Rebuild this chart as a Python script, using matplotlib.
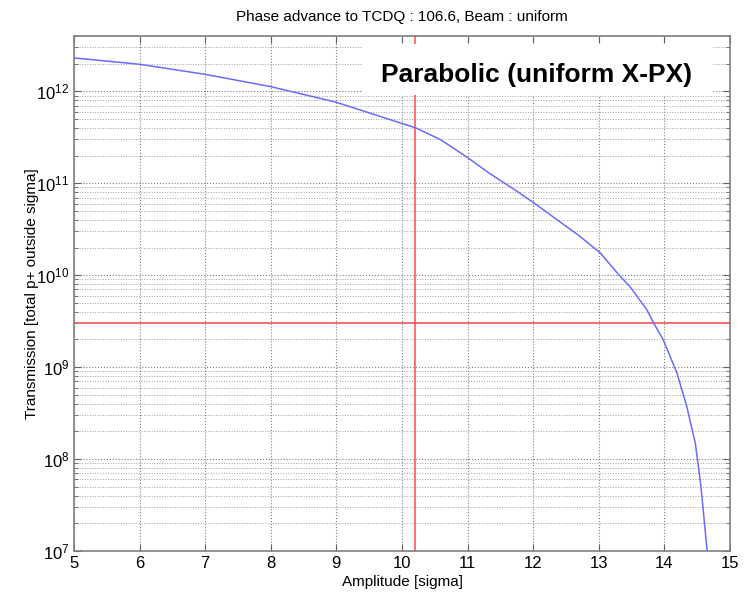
import matplotlib
matplotlib.use("Agg")
import matplotlib.pyplot as plt
from matplotlib.ticker import LogLocator, MultipleLocator
from matplotlib.patches import Rectangle

plt.rcParams['font.family'] = ['Liberation Sans', 'DejaVu Sans']
plt.rcParams['mathtext.fontset'] = 'custom'
plt.rcParams['mathtext.rm'] = 'Liberation Sans'
plt.rcParams['mathtext.it'] = 'Liberation Sans'

amplitude = [5.0, 6.0, 7.0, 8.0, 9.0, 10.0, 10.2, 10.58, 11.0, 11.32, 11.75,
             12.05, 12.71, 13.02, 13.32, 13.47, 13.73, 13.84, 13.98, 14.19, 14.34,
             14.47, 14.55, 14.60, 14.65]
transmission = [2.31e12, 1.97e12, 1.53e12, 1.125e12, 7.6e11, 4.47e11, 4.03e11,
                3.0e11, 1.9e11, 1.3e11, 8.2e10, 5.83e10, 2.65e10, 1.75e10,
                9.8e9, 7.57e9, 4.22e9, 2.97e9, 1.99e9, 8.63e8, 3.73e8, 1.49e8,
                5.46e7, 2.37e7, 1.0e7]
cut_amplitude = 10.2
cut_transmission = 3e9

title = "Phase advance to TCDQ : 106.6, Beam : uniform"
xlabel = "Amplitude [sigma]"
ylabel = "Transmission [total p+ outside sigma]"
annotation = "Parabolic (uniform X-PX)"

fig = plt.figure(figsize=(7.55, 5.95), dpi=100)
ax = fig.add_axes([0.098, 0.074, 0.869, 0.8655])

ax.plot(amplitude, transmission, color='#6b6bff', lw=1.1, zorder=3)
ax.axvline(cut_amplitude, color='#ff4a4a', lw=1.1, zorder=2)
ax.axhline(cut_transmission, color='#ff4a4a', lw=1.1, zorder=2)

ax.set_yscale('log')
ax.set_xlim(5, 15)
ax.set_ylim(1e7, 4e12)
ax.xaxis.set_major_locator(MultipleLocator(1))
ax.yaxis.set_major_locator(LogLocator(base=10, numticks=20))
ax.yaxis.set_minor_locator(LogLocator(base=10, subs=range(2, 10), numticks=20))

ax.grid(True, which='major', linestyle=':', color='#808080', lw=0.8)
ax.grid(True, which='minor', axis='y', linestyle=':', color='#a0a0a0', lw=0.7)

ax.tick_params(which='both', direction='in', top=True, right=True,
               colors='#606060', labelcolor='black', labelsize=12)
ax.tick_params(which='major', length=5)
ax.tick_params(which='minor', length=3)
for s in ax.spines.values():
    s.set_color('#808080')
    s.set_linewidth(1.2)

ax.set_title(title, fontsize=11, pad=11)
ax.set_xlabel(xlabel, fontsize=11, labelpad=3)
ax.set_ylabel(ylabel, fontsize=11, labelpad=-2)

ax.add_patch(Rectangle((0.439, 0.885), 0.534, 0.099, transform=ax.transAxes,
                       facecolor='white', edgecolor='none', zorder=4))
ax.text(0.705, 0.925, annotation, transform=ax.transAxes, ha='center', va='center',
        fontsize=19, fontweight='bold', zorder=5)

fig.savefig("out.png", dpi=100)
